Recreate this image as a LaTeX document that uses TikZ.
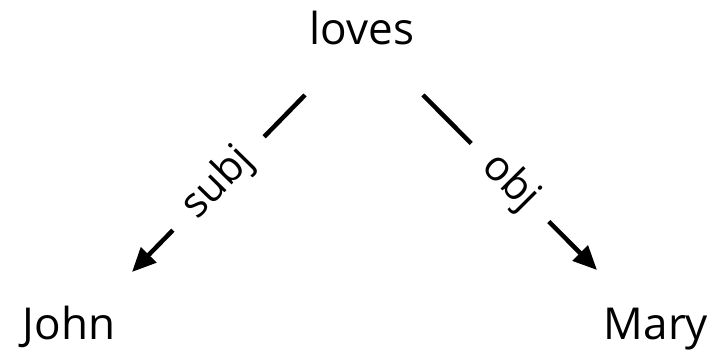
\documentclass[tikz,border=0pt]{standalone}
\usepackage{fontspec}
\setmainfont{Open Sans}
\usetikzlibrary{arrows.meta}
\begin{document}
\begin{tikzpicture}[x=1pt,y=1pt,
  word/.style={inner sep=0pt, anchor=base, font=\fontsize{44}{48}\selectfont},
  dep/.style={line width=4.5pt, -{Triangle[length=24pt,width=21pt]}},
  rel/.style={sloped, fill=white, inner xsep=24pt, inner ysep=2pt,
              font=\fontsize{42}{46}\selectfont}]
  \useasboundingbox (0,0) rectangle (716,355);
  % words of the sentence
  \node[word] (loves) at (362,310) {loves};
  \node[word] (John)  at (69,15)   {John};
  \node[word] (Mary)  at (656,15)  {Mary};
  % dependency arcs with their relation labels
  \draw[dep] ([shift={(-57,-50)}]loves.base) -- ([shift={(63,68)}]John.base)
    node[rel, pos=0.5] {subj};
  \draw[dep] ([shift={(61,-50)}]loves.base) -- ([shift={(-59,70)}]Mary.base)
    node[rel, pos=0.5] {obj};
\end{tikzpicture}
\end{document}
